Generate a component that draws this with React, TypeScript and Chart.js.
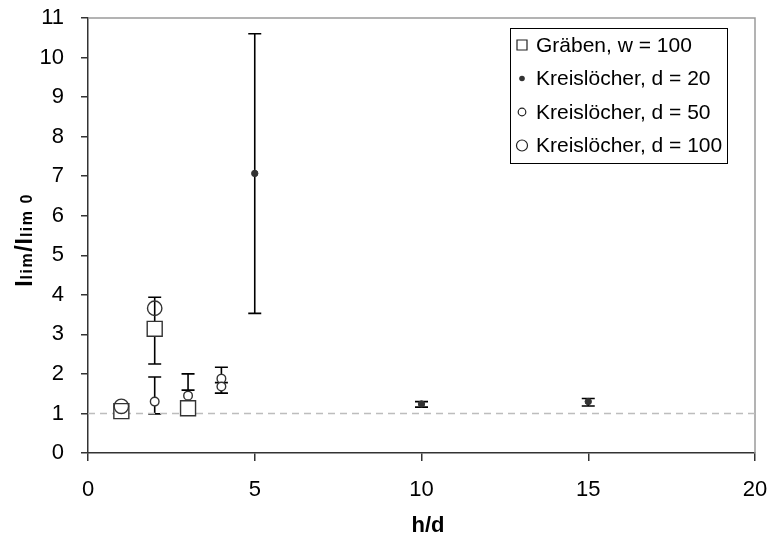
import React, { useEffect, useRef } from "react";
import { Chart, registerables } from "chart.js";

Chart.register(...registerables);

// ---- Data ----
const xTicks = [0, 5, 10, 15, 20];
const yTicks = [0, 1, 2, 3, 4, 5, 6, 7, 8, 9, 10, 11];

const legendLabels = [
  "Gräben, w = 100",
  "Kreislöcher, d = 20",
  "Kreislöcher, d = 50",
  "Kreislöcher, d = 100",
];

const grabenX = [1, 2, 3];
const grabenY = [1.06, 3.14, 1.13];
const grabenLow: (number | null)[] = [null, 2.25, null];
const grabenHigh: (number | null)[] = [null, 3.94, 1.59];

const d20X = [5, 10, 15];
const d20Y = [7.07, 1.24, 1.3];
const d20Low: (number | null)[] = [3.53, 1.16, 1.19];
const d20High: (number | null)[] = [10.6, 1.3, 1.38];

const d50X = [2, 3, 4, 4];
const d50Y = [1.3, 1.45, 1.88, 1.68];
const d50Low: (number | null)[] = [0.99, null, 1.51, 1.51];
const d50High: (number | null)[] = [1.92, 2.0, 2.17, 1.78];

const d100X = [1, 2];
const d100Y = [1.18, 3.66];
const d100Low: (number | null)[] = [null, null];
const d100High: (number | null)[] = [null, null];

const refX = [0, 20];
const refY = [1, 1];

const FONT = "'Liberation Sans', Arial, sans-serif";

const pts = (xs: number[], ys: number[]) => xs.map((x, i) => ({ x, y: ys[i] }));

const errorBarPlugin = {
  id: "errorBars",
  beforeDatasetsDraw(chart: any) {
    const ctx = chart.ctx;
    const xs = chart.scales.x;
    const ys = chart.scales.y;
    ctx.save();
    ctx.strokeStyle = "#000";
    ctx.lineWidth = 1.6;
    chart.data.datasets.forEach((ds: any) => {
      if (!ds.errLow) return;
      ds.data.forEach((p: any, i: number) => {
        const lo = ds.errLow[i];
        const hi = ds.errHigh[i];
        if (lo == null && hi == null) return;
        const px = xs.getPixelForValue(p.x);
        const yLo = ys.getPixelForValue(lo == null ? p.y : lo);
        const yHi = ys.getPixelForValue(hi == null ? p.y : hi);
        ctx.beginPath();
        ctx.moveTo(px, yLo);
        ctx.lineTo(px, yHi);
        const cap = 6.5;
        if (lo != null) {
          ctx.moveTo(px - cap, yLo);
          ctx.lineTo(px + cap, yLo);
        }
        if (hi != null) {
          ctx.moveTo(px - cap, yHi);
          ctx.lineTo(px + cap, yHi);
        }
        ctx.stroke();
      });
    });
    ctx.restore();
  },
};

const framePlugin = {
  id: "frame",
  beforeDatasetsDraw(chart: any) {
    const { ctx, chartArea } = chart;
    ctx.save();
    ctx.strokeStyle = "#9a9a9a";
    ctx.lineWidth = 1.5;
    ctx.beginPath();
    ctx.moveTo(chartArea.left, chartArea.top);
    ctx.lineTo(chartArea.right, chartArea.top);
    ctx.lineTo(chartArea.right, chartArea.bottom);
    ctx.stroke();
    ctx.restore();
  },
};

const textPlugin = {
  id: "texts",
  afterDraw(chart: any) {
    const ctx = chart.ctx;
    ctx.save();
    // X title
    ctx.fillStyle = "#000";
    ctx.font = `bold 22px ${FONT}`;
    ctx.textAlign = "center";
    ctx.textBaseline = "alphabetic";
    ctx.fillText("h/d", 428, 532);

    // Y title with subscripts
    const parts: [string, boolean][] = [
      ["I", false],
      ["lim", true],
      ["/I", false],
      ["lim 0", true],
    ];
    const bigFont = `bold 23px ${FONT}`;
    const smallFont = `bold 16px ${FONT}`;
    const spacingFor = (sub: boolean) => (sub ? "1.5px" : "1px");
    const widths = parts.map(([t, sub]) => {
      ctx.font = sub ? smallFont : bigFont;
      (ctx as any).letterSpacing = spacingFor(sub);
      return ctx.measureText(t).width;
    });
    const total = widths.reduce((a, b) => a + b, 0);
    ctx.translate(32, 240);
    ctx.rotate(-Math.PI / 2);
    ctx.textAlign = "left";
    let cx = -total / 2;
    parts.forEach(([t, sub], i) => {
      ctx.font = sub ? smallFont : bigFont;
      (ctx as any).letterSpacing = spacingFor(sub);
      ctx.fillText(t, cx, 0);
      cx += widths[i];
    });
    ctx.restore();

    // Legend
    ctx.save();
    (ctx as any).letterSpacing = "0px";
    const lx = 510, ly = 28, lw = 217, lh = 135;
    ctx.fillStyle = "#fff";
    ctx.fillRect(lx, ly, lw, lh);
    ctx.strokeStyle = "#000";
    ctx.lineWidth = 1;
    ctx.strokeRect(lx + 0.5, ly + 0.5, lw, lh);
    const rowY = [45, 78.5, 112, 145.5];
    const mx = 522;
    ctx.font = `21px ${FONT}`;
    ctx.textAlign = "left";
    ctx.textBaseline = "middle";
    legendLabels.forEach((lab, i) => {
      const y = rowY[i];
      ctx.strokeStyle = "#222";
      ctx.lineWidth = 1.2;
      ctx.beginPath();
      if (i === 0) {
        ctx.rect(mx - 5, y - 5, 10, 10);
        ctx.stroke();
      } else if (i === 1) {
        ctx.fillStyle = "#333";
        ctx.arc(mx, y, 2.8, 0, Math.PI * 2);
        ctx.fill();
      } else if (i === 2) {
        ctx.arc(mx, y, 3.8, 0, Math.PI * 2);
        ctx.stroke();
      } else {
        ctx.arc(mx, y, 5.5, 0, Math.PI * 2);
        ctx.stroke();
      }
      ctx.fillStyle = "#000";
      ctx.fillText(lab, 536, y + 1);
    });
    ctx.restore();
  },
};

export default function App() {
  const ref = useRef<HTMLCanvasElement>(null);
  useEffect(() => {
    const canvas = ref.current;
    if (!canvas) return;
    const chart = new Chart(canvas, {
      type: "scatter",
      data: {
        datasets: [
          {
            label: legendLabels[0],
            data: pts(grabenX, grabenY),
            pointStyle: "rect",
            pointRadius: 10.6,
            backgroundColor: "#fff",
            borderColor: "#333",
            borderWidth: 1.4,
            errLow: grabenLow,
            errHigh: grabenHigh,
            order: 4,
          } as any,
          {
            label: legendLabels[1],
            data: pts(d20X, d20Y),
            pointStyle: "circle",
            pointRadius: 3.2,
            backgroundColor: "#333",
            borderColor: "#333",
            borderWidth: 1,
            errLow: d20Low,
            errHigh: d20High,
            order: 3,
          } as any,
          {
            label: legendLabels[2],
            data: pts(d50X, d50Y),
            pointStyle: "circle",
            pointRadius: 4.3,
            backgroundColor: "#fff",
            borderColor: "#333",
            borderWidth: 1.4,
            errLow: d50Low,
            errHigh: d50High,
            order: 2,
          } as any,
          {
            label: legendLabels[3],
            data: pts(d100X, d100Y),
            pointStyle: "circle",
            pointRadius: 7.2,
            backgroundColor: "rgba(255,255,255,0)",
            borderColor: "#333",
            borderWidth: 1.4,
            errLow: d100Low,
            errHigh: d100High,
            order: 1,
          } as any,
          {
            label: "ref",
            data: pts(refX, refY),
            showLine: true,
            pointRadius: 0,
            borderColor: "#bdbdbd",
            borderWidth: 1.6,
            borderDash: [7, 5],
            order: 10,
          } as any,
        ],
      },
      options: {
        animation: false,
        responsive: false,
        devicePixelRatio: 1,
        layout: { padding: { left: 0, top: 18, right: 14, bottom: 0 } },
        plugins: {
          legend: { display: false },
          tooltip: { enabled: false },
        },
        scales: {
          x: {
            type: "linear",
            min: 0,
            max: 20,
            afterBuildTicks: (s: any) => {
              s.ticks = xTicks.map((v) => ({ value: v }));
            },
            afterFit: (s: any) => {
              s.height = 82;
              s.paddingLeft = 0;
              s.paddingRight = 0;
            },
            ticks: {
              color: "#000",
              font: { family: FONT, size: 22 },
              padding: 16,
              maxRotation: 0,
            },
            grid: {
              drawOnChartArea: false,
              drawTicks: true,
              tickLength: 8,
              color: "#333",
              lineWidth: 1.5,
            },
            border: { display: true, color: "#333", width: 1.5 },
          },
          y: {
            type: "linear",
            min: 0,
            max: 11,
            afterBuildTicks: (s: any) => {
              s.ticks = yTicks.map((v) => ({ value: v }));
            },
            afterFit: (s: any) => {
              s.width = 88;
              s.paddingTop = 0;
              s.paddingBottom = 0;
            },
            ticks: {
              color: "#000",
              font: { family: FONT, size: 22 },
              padding: 17,
            },
            grid: {
              drawOnChartArea: false,
              drawTicks: true,
              tickLength: 7,
              color: "#333",
              lineWidth: 1.5,
            },
            border: { display: true, color: "#333", width: 1.5 },
          },
        },
      },
      plugins: [framePlugin, errorBarPlugin, textPlugin],
    } as any);
    return () => chart.destroy();
  }, []);
  return (
    <div style={{ position: "absolute", left: 0, top: 0, width: 769, height: 535 }}>
      <canvas ref={ref} width={769} height={535} />
    </div>
  );
}
